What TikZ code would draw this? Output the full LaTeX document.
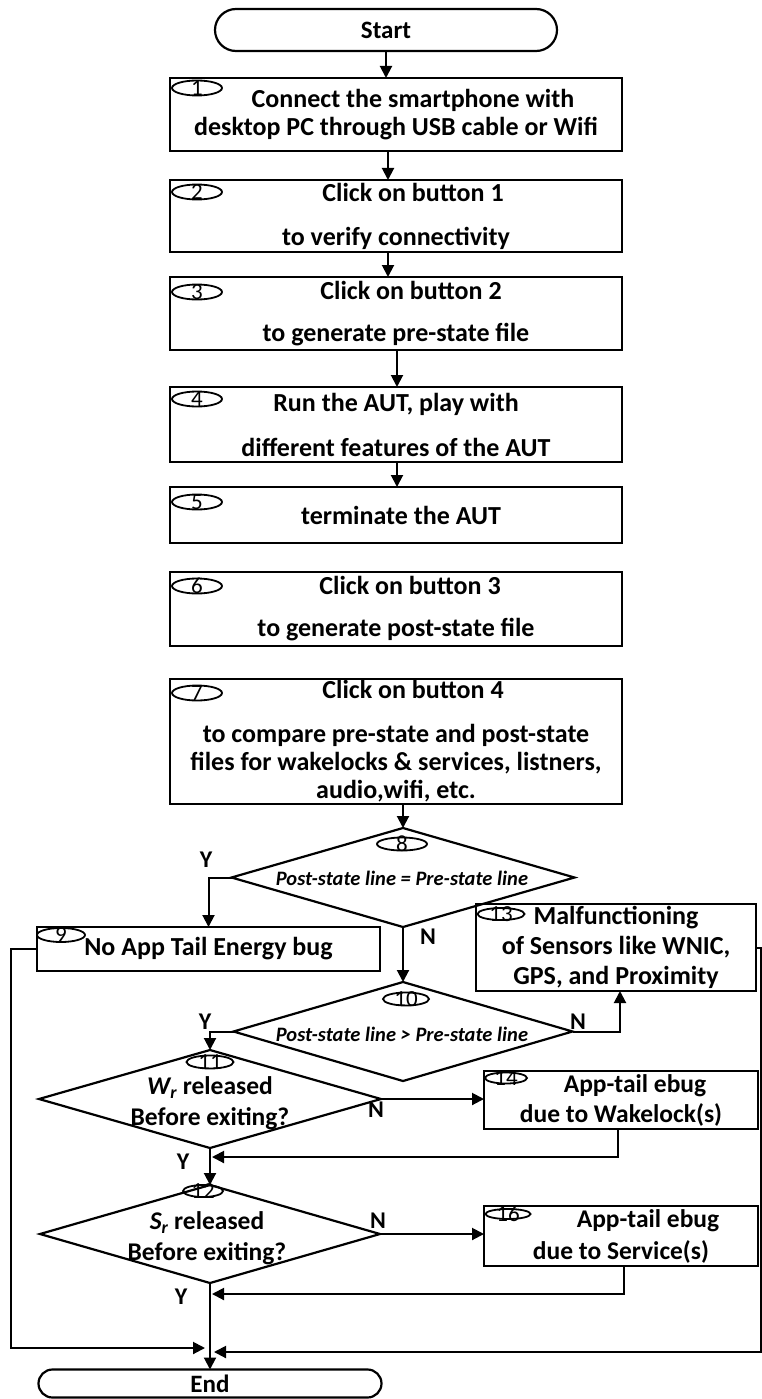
\documentclass[tikz,border=0pt]{standalone}
\usepackage{fontspec}
\setmainfont{Carlito}
\usetikzlibrary{shapes.geometric,shapes.misc,arrows.meta}
% step number drawn inside a small ellipse, allowed to overflow it
\newcommand\tagnum[1]{\smash{\raisebox{-0.32em}{#1}}}
\begin{document}
\begin{tikzpicture}[x=1pt,y=-1pt,
  box/.style={draw,line width=2.2pt,rectangle,inner sep=0pt,outer sep=0pt,align=center,
              font=\fontsize{26}{28}\selectfont\bfseries},
  bigbox/.style={box,font=\fontsize{26}{30}\selectfont\bfseries},
  term/.style={draw,line width=2.2pt,rounded rectangle,inner sep=0pt,outer sep=0pt,
               font=\fontsize{25}{28}\selectfont\bfseries},
  dec/.style={draw,diamond,line width=2.2pt,inner sep=0pt,outer sep=0pt},
  tag/.style={draw,ellipse,line width=1.8pt,inner sep=0pt,minimum width=50pt,minimum height=15pt,
              font=\fontsize{23}{23}\selectfont},
  dtext/.style={align=center,inner sep=0pt,font=\fontsize{20.5}{22}\selectfont\bfseries\itshape},
  qtext/.style={align=center,inner sep=0pt,font=\fontsize{25.5}{31}\selectfont\bfseries},
  yn/.style={inner sep=0pt,font=\fontsize{24}{24}\selectfont\bfseries},
  wire/.style={line width=2pt},
  flow/.style={wire,-{Triangle[length=12pt,width=12pt]}}
]
\useasboundingbox (0,0) rectangle (762,1399);

% terminals
\node[term,minimum width=342pt,minimum height=42pt] (start) at (386,30) {Start};
\node[term,minimum width=343pt,minimum height=28pt] (end) at (210,1383.5) {End};

% process steps
\node[box,minimum width=452pt,minimum height=73pt] (b1) at (396,114.5)
  {\hspace*{34pt}Connect the smartphone with\\desktop PC through USB cable or Wifi};
\node[box,minimum width=452pt,minimum height=72pt] (b2) at (396,216)
  {\hspace*{34pt}Click on button 1\\[16pt]to verify connectivity};
\node[box,minimum width=452pt,minimum height=73pt] (b3) at (396,313.5)
  {\hspace*{30pt}Click on button 2\\[14pt]to generate pre-state file};
\node[box,minimum width=452pt,minimum height=75pt] (b4) at (396,424.5)
  {Run the AUT, play with\\[17pt]different features of the AUT};
\node[box,minimum width=452pt,minimum height=56pt] (b5) at (396,515)
  {\hspace*{10pt}terminate the AUT};
\node[box,minimum width=452pt,minimum height=74pt] (b6) at (396,609)
  {\hspace*{28pt}Click on button 3\\[14pt]to generate post-state file};
\node[box,minimum width=452pt,minimum height=125pt] (b7) at (396,741.5)
  {\hspace*{34pt}Click on button 4\\[16pt]to compare pre-state and post-state\\
   files for wakelocks \& services, listners,\\audio,wifi, etc.};

\node[tag] (t1) at (197,88) {\tagnum{1}};
\node[tag] (t2) at (197,192) {\tagnum{2}};
\node[tag] (t3) at (197,292) {\tagnum{3}};
\node[tag] (t4) at (197,399) {\tagnum{4}};
\node[tag] (t5) at (197,502) {\tagnum{5}};
\node[tag] (t6) at (197,586) {\tagnum{6}};
\node[tag] (t7) at (197,693) {\tagnum{7}};

% decisions
\node[dec,minimum width=343pt,minimum height=99pt] (d8) at (403,877.5) {};
\node[dtext] (d8t) at (402,878) {Post-state line = Pre-state line};
\node[tag,minimum height=13pt] (t8) at (402,844) {\tagnum{8}};

\node[dec,minimum width=339pt,minimum height=99pt] (d10) at (403,1031.5) {};
\node[dtext] (d10t) at (402,1034) {Post-state line > Pre-state line};
\node[tag,minimum width=46pt,minimum height=13pt] (t10) at (406,999) {\tagnum{10}};

\node[dec,minimum width=342pt,minimum height=98pt] (d11) at (210,1099) {};
\node[qtext] (d11t) at (210,1103) {{\itshape W\textsubscript{r}} released\\Before exiting?};
\node[tag,minimum width=47pt,minimum height=13pt] (t11) at (210,1062) {\tagnum{11}};

\node[dec,minimum width=340pt,minimum height=98pt] (d12) at (210,1234) {};
\node[qtext] (d12t) at (207,1238) {{\itshape S\textsubscript{r}} released\\Before exiting?};
\node[tag,minimum width=40pt,minimum height=12pt] (t12) at (203,1191) {\tagnum{12}};

% outcome boxes
\node[bigbox,minimum width=343pt,minimum height=44pt] (b9) at (208.5,949) {No App Tail Energy bug};
\node[tag,minimum width=48pt,minimum height=14pt] (t9) at (61,935) {\tagnum{9}};

\node[bigbox,minimum width=280pt,minimum height=87pt] (b13) at (616,947.5)
  {Malfunctioning\\of Sensors like WNIC,\\GPS, and Proximity};
\node[tag,minimum width=47pt,minimum height=12pt] (t13) at (501,914) {\tagnum{13}};

\node[box,font=\fontsize{25.5}{30}\selectfont\bfseries,minimum width=274pt,minimum height=58pt] (b14) at (621,1100)
  {\hspace*{28pt}App-tail ebug\\due to Wakelock(s)};
\node[tag,minimum width=42pt,minimum height=11pt] (t14) at (506,1078) {\tagnum{14}};

\node[box,font=\fontsize{25.5}{32}\selectfont\bfseries,minimum width=274pt,minimum height=60pt] (b16) at (621,1236)
  {\hspace*{54pt}App-tail ebug\\due to Service(s)};
\node[tag,minimum width=45pt,minimum height=10pt] (t16) at (508,1214) {\tagnum{16}};

% branch labels
\node[yn] (y8) at (206,860) {Y};
\node[yn] (n8) at (428,937) {N};
\node[yn] (y10) at (205,1022) {Y};
\node[yn] (n10) at (578,1022) {N};
\node[yn] (n11) at (376,1110) {N};
\node[yn] (y11) at (183,1162) {Y};
\node[yn] (n12) at (378,1221) {N};
\node[yn] (y12) at (181,1297) {Y};

% junction points on the trunk above End
\coordinate (j14) at (212,1157);
\coordinate (j16) at (212,1294);
\coordinate (cl) at (11,1348);
\coordinate (jl) at (205,1348);
\coordinate (cr) at (761,1352);
\coordinate (jr) at (214,1352);

% connectors
\draw[flow] (start.south) -- (start.south |- b1.north);
\draw[flow] ([xshift=-8pt]b1.south) -- ([xshift=-8pt]b2.north);
\draw[flow] ([xshift=-8pt]b2.south) -- ([xshift=-8pt]b3.north);
\draw[flow] ([xshift=1pt]b3.south) -- ([xshift=1pt]b4.north);
\draw[flow] ([xshift=1pt]b4.south) -- ([xshift=1pt]b5.north);
\draw[flow] (d8.north |- b7.south) -- (d8.north);
\draw[flow] (d8.west) -| (b9.north);
\draw[flow] (d8.south) -- (d10.north);
\draw[flow] (d10.east) -| ([xshift=4pt]b13.south);
\draw[flow] (d10.west) -| (d11.north);
\draw[flow] (d11.east) -- (d11.east -| b14.west);
\draw[flow] (d11.south) -- (d12.north);
\draw[flow] ([xshift=-3pt]b14.south) |- (j14);
\draw[flow] (d12.east) -- (d12.east -| b16.west);
\draw[flow] ([xshift=3pt]b16.south) |- (j16);
\draw[flow] (d12.south) -- (end.north);
\draw[flow] (b9.west) -| (cl) -- (jl);
\draw[flow] (b13.east) -| (cr) -- (jr);
\end{tikzpicture}
\end{document}
